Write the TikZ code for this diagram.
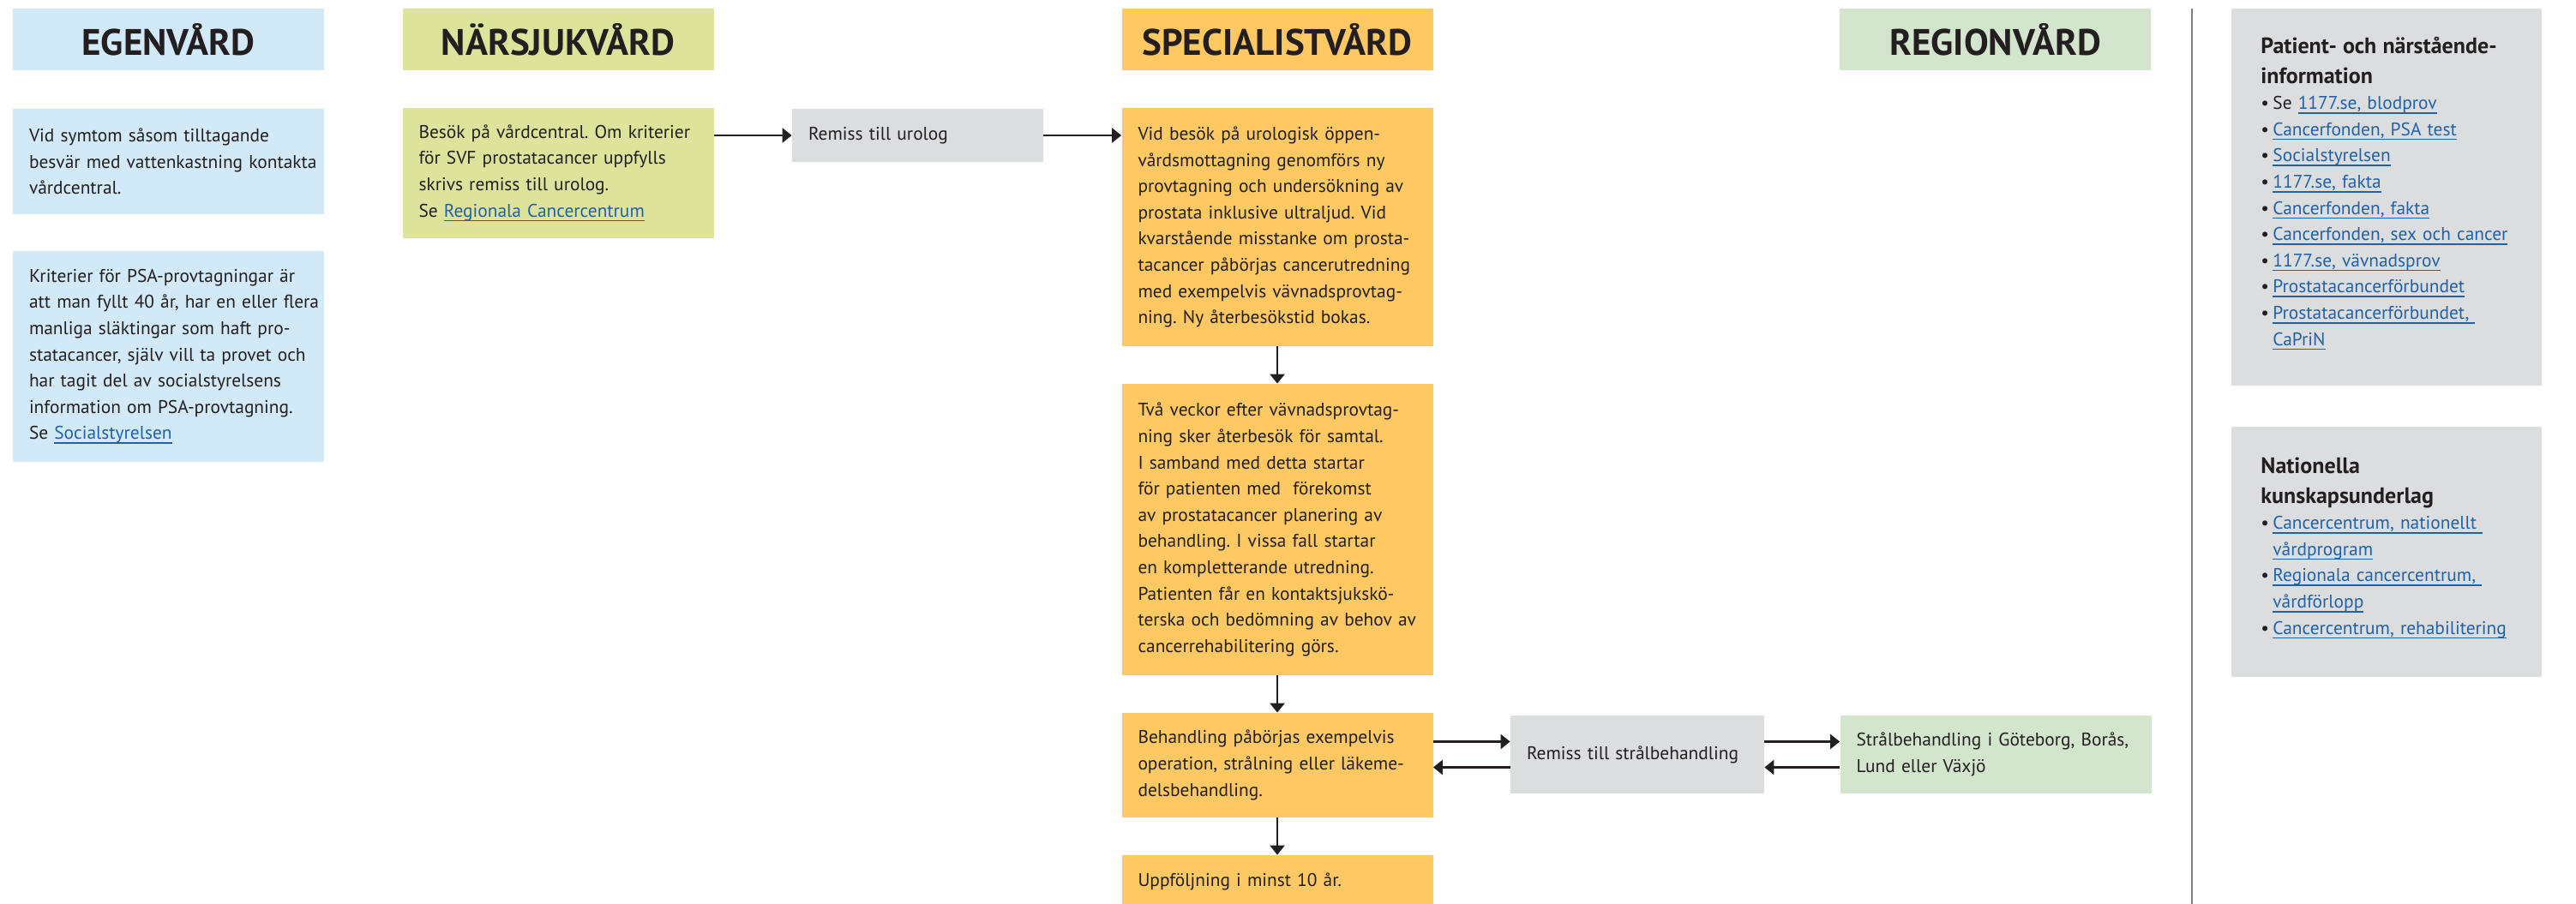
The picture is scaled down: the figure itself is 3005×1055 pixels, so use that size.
\documentclass[tikz,border=0pt]{standalone}
\usepackage{fontspec}
\setmainfont{PT Sans}
\usepackage{xcolor}
\usetikzlibrary{arrows.meta, positioning, calc}
\tikzset{>=Latex}
\frenchspacing

\definecolor{egenblau}{HTML}{D2E9F7}
\definecolor{naergruen}{HTML}{DDE39B}
\definecolor{specorange}{HTML}{FEC962}
\definecolor{regiongruen}{HTML}{D3E5CC}
\definecolor{remissgrau}{HTML}{DCDDDF}
\definecolor{textdunkel}{HTML}{231F20}
\definecolor{linkblau}{HTML}{1F62A8}

% unterstrichener Verweis
\newcommand{\lnk}[1]{{\color{linkblau}\setbox0=\hbox{#1}%
  \rlap{\rule[-2.6pt]{\wd0}{0.8pt}}\box0}}
\newcommand{\punkt}{\makebox[7pt][l]{\textbullet}}

\begin{document}
\begin{tikzpicture}[x=0.5pt,y=-0.5pt]

         %%%%%%%%%%%%%%%%%%%%%%%%%%%%%%%%%%%%%%%%%%%%%%%%%%%%%%%%%%%%%%%%%%%%%%
         % Parameter
         %%%%%%%%%%%%%%%%%%%%%%%%%%%%%%%%%%%%%%%%%%%%%%%%%%%%%%%%%%%%%%%%%%%%%%
         \def\spaltbreite{181.5pt}
         \def\textbreite{162.5pt}
         \def\xabstand{9.5pt}
         \def\pfeilversatz{7.5pt}

         \useasboundingbox (0,0) rectangle (3005,1055);

         % Stile für Kopfzeilen, Kästen und Pfeile
         \tikzset{
            kopf/.style={
            minimum width=\spaltbreite, minimum height=36pt, inner sep=0pt,
            font=\fontsize{21.5}{25}\selectfont\bfseries, text=textdunkel
            },
            kasten/.style={
            minimum width=\spaltbreite, text width=\textbreite,
            inner xsep=\xabstand, inner ysep=0pt, align=left,
            font=\fontsize{10.7}{15.3}\selectfont, text=textdunkel,
            execute at begin node={\rightskip=0pt plus 1fil minus 30pt\relax}
            },
            infotext/.style={
            anchor=base west, inner sep=0pt, text width=162pt, align=left,
            font=\fontsize{10.7}{15.3}\selectfont, text=textdunkel,
            execute at begin node={\rightskip=0pt plus 1fil minus 30pt\relax}
            },
            pfeil/.style={
            line width=1.3pt, textdunkel,
            -{Triangle[length=5.5pt,width=8.5pt]}
            }
         }
         \def\titelschrift{\fontsize{13}{17.5}\selectfont\bfseries}

         %%%%%%%%%%%%%%%%%%%%%%%%%%%%%%%%%%%%%%%%%%%%%%%%%%%%%%%%%%%%%%%%%%%%%%
         % Kopfzeilen
         %%%%%%%%%%%%%%%%%%%%%%%%%%%%%%%%%%%%%%%%%%%%%%%%%%%%%%%%%%%%%%%%%%%%%%
         \node[kopf,fill=egenblau]    (hEgen) at (196.5,46)  {EGENVÅRD};
         \node[kopf,fill=naergruen]   (hNar)  at (651,46)    {NÄRSJUKVÅRD};
         \node[kopf,fill=specorange]  (hSpec) at (1490,46)   {SPECIALISTVÅRD};
         \node[kopf,fill=regiongruen] (hReg)  at (2327.5,46) {REGIONVÅRD};

         %%%%%%%%%%%%%%%%%%%%%%%%%%%%%%%%%%%%%%%%%%%%%%%%%%%%%%%%%%%%%%%%%%%%%%
         % Egenvård
         %%%%%%%%%%%%%%%%%%%%%%%%%%%%%%%%%%%%%%%%%%%%%%%%%%%%%%%%%%%%%%%%%%%%%%
         \node[kasten,fill=egenblau,minimum height=61.5pt] (egenA) at (196.5,188.5)
         {Vid symtom såsom tilltagande\\
          besvär med vattenkastning kontakta\\
          vårdcentral.};

         \node[kasten,fill=egenblau,minimum height=123pt] (egenB) at (196.5,416)
         {Kriterier för PSA-provtagningar är\\
          att man fyllt 40 år, har en eller flera\\
          manliga släktingar som haft pro-\\
          statacancer, själv vill ta provet och\\
          har tagit del av socialstyrelsens\\
          information om PSA-provtagning.\\
          Se \lnk{Socialstyrelsen}};

         %%%%%%%%%%%%%%%%%%%%%%%%%%%%%%%%%%%%%%%%%%%%%%%%%%%%%%%%%%%%%%%%%%%%%%
         % Närsjukvård und Remiss
         %%%%%%%%%%%%%%%%%%%%%%%%%%%%%%%%%%%%%%%%%%%%%%%%%%%%%%%%%%%%%%%%%%%%%%
         \node[kasten,fill=naergruen,minimum height=76pt] (narA) at (651,202)
         {Besök på vårdcentral. Om kriterier\\
          för SVF prostatacancer uppfylls\\
          skrivs remiss till urolog.\\
          Se \lnk{Regionala Cancercentrum}};

         \node[kasten,fill=remissgrau,minimum width=146.5pt,text width=127.5pt,
               minimum height=31pt] (remUro) at (1070.5,158)
         {Remiss till urolog};

         %%%%%%%%%%%%%%%%%%%%%%%%%%%%%%%%%%%%%%%%%%%%%%%%%%%%%%%%%%%%%%%%%%%%%%
         % Specialistvård
         %%%%%%%%%%%%%%%%%%%%%%%%%%%%%%%%%%%%%%%%%%%%%%%%%%%%%%%%%%%%%%%%%%%%%%
         \node[kasten,fill=specorange,minimum height=139pt] (specA) at (1490,265)
         {Vid besök på urologisk öppen-\\
          vårdsmottagning genomförs ny\\
          provtagning och undersökning av\\
          prostata inklusive ultraljud. Vid\\
          kvarstående misstanke om prosta-\\
          tacancer påbörjas cancerutredning\\
          med exempelvis vävnadsprovtag-\\
          ning. Ny återbesökstid bokas.};

         \node[kasten,fill=specorange,minimum height=170pt] (specB) at (1490,618)
         {Två veckor efter vävnadsprovtag-\\
          ning sker återbesök för samtal.\\
          I samband med detta startar\\
          för patienten med \ förekomst\\
          av prostatacancer planering av\\
          behandling. I vissa fall startar\\
          en kompletterande utredning.\\
          Patienten får en kontaktsjukskö-\\
          terska och bedömning av behov av\\
          cancerrehabilitering görs.};

         \node[kasten,fill=specorange,minimum height=61pt] (specC) at (1490,893)
         {Behandling påbörjas exempelvis\\
          operation, strålning eller läkeme-\\
          delsbehandling.};

         \node[kasten,fill=specorange,minimum height=31pt] (specD) at (1490,1029)
         {Uppföljning i minst 10 år.};

         %%%%%%%%%%%%%%%%%%%%%%%%%%%%%%%%%%%%%%%%%%%%%%%%%%%%%%%%%%%%%%%%%%%%%%
         % Strålbehandling
         %%%%%%%%%%%%%%%%%%%%%%%%%%%%%%%%%%%%%%%%%%%%%%%%%%%%%%%%%%%%%%%%%%%%%%
         \node[kasten,fill=remissgrau,minimum width=148pt,text width=129pt,
               minimum height=45.5pt] (remStr) at (1910,880.5)
         {Remiss till strålbehandling};

         \node[kasten,fill=regiongruen,minimum height=45.5pt] (regA) at (2328,880.5)
         {Strålbehandling i Göteborg, Borås,\\
          Lund eller Växjö};

         %%%%%%%%%%%%%%%%%%%%%%%%%%%%%%%%%%%%%%%%%%%%%%%%%%%%%%%%%%%%%%%%%%%%%%
         % Pfeile
         %%%%%%%%%%%%%%%%%%%%%%%%%%%%%%%%%%%%%%%%%%%%%%%%%%%%%%%%%%%%%%%%%%%%%%
         \draw[pfeil] (narA.east |- remUro.west) -- (remUro.west);
         \draw[pfeil] (remUro.east) -- (remUro.east -| specA.west);

         \draw[pfeil] (specA.south) -- (specB.north);
         \draw[pfeil] (specB.south) -- (specC.north);
         \draw[pfeil] (specC.south) -- (specD.north);

         % hin und zurück
         \coordinate (StrHinL)  at ([yshift=\pfeilversatz]remStr.west);
         \coordinate (StrZurL)  at ([yshift=-\pfeilversatz]remStr.west);
         \coordinate (StrHinR)  at ([yshift=\pfeilversatz]remStr.east);
         \coordinate (StrZurR)  at ([yshift=-\pfeilversatz]remStr.east);

         \draw[pfeil] (StrHinL -| specC.east) -- (StrHinL);
         \draw[pfeil] (StrZurL) -- (StrZurL -| specC.east);
         \draw[pfeil] (StrHinR) -- (StrHinR -| regA.west);
         \draw[pfeil] (StrZurR -| regA.west) -- (StrZurR);

         %%%%%%%%%%%%%%%%%%%%%%%%%%%%%%%%%%%%%%%%%%%%%%%%%%%%%%%%%%%%%%%%%%%%%%
         % Trennlinie und Informationen
         %%%%%%%%%%%%%%%%%%%%%%%%%%%%%%%%%%%%%%%%%%%%%%%%%%%%%%%%%%%%%%%%%%%%%%
         \coordinate (TrennOben) at (2557,10);
         \coordinate (TrennUnten) at (2557,1055);
         \draw[line width=1pt,black!50] (TrennOben) -- (TrennUnten);

         \node[fill=remissgrau,minimum width=181pt,minimum height=220pt,inner sep=0pt]
         (infoA) at (2784,230) {};
         \node[infotext] (infoAtext) at (2637,62)
         {{\titelschrift
           Patient- och närstående-\\
           information\par}
          \punkt Se \lnk{1177.se, blodprov}\\
          \punkt\lnk{Cancerfonden, PSA test}\\
          \punkt\lnk{Socialstyrelsen}\\
          \punkt\lnk{1177.se, fakta}\\
          \punkt\lnk{Cancerfonden, fakta}\\
          \punkt\lnk{Cancerfonden, sex och cancer}\\
          \punkt\lnk{1177.se, vävnadsprov}\\
          \punkt\lnk{Prostatacancerförbundet}\\
          \punkt\lnk{Prostatacancerförbundet,\ }\\
          \hspace*{7pt}\lnk{CaPriN}};

         \node[fill=remissgrau,minimum width=181pt,minimum height=146pt,inner sep=0pt]
         (infoB) at (2784,644) {};
         \node[infotext] (infoBtext) at (2637,552)
         {{\titelschrift
           Nationella\\
           kunskapsunderlag\par}
          \punkt\lnk{Cancercentrum, nationellt\ }\\
          \hspace*{7pt}\lnk{vårdprogram}\\
          \punkt\lnk{Regionala cancercentrum,\ }\\
          \hspace*{7pt}\lnk{vårdförlopp}\\
          \punkt\lnk{Cancercentrum, rehabilitering}};

\end{tikzpicture}
\end{document}
